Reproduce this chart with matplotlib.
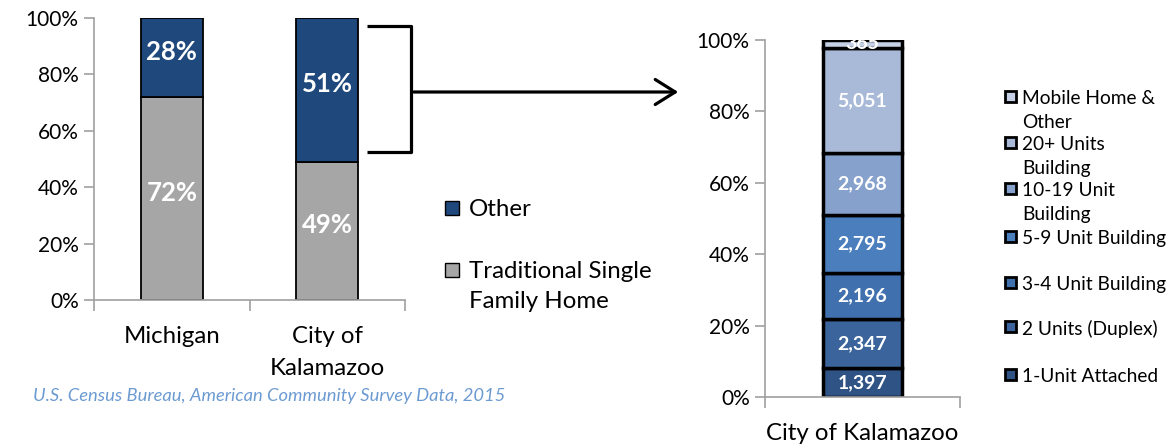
import matplotlib
matplotlib.use("Agg")
import matplotlib.pyplot as plt
from matplotlib.patches import Rectangle
from matplotlib.lines import Line2D
import numpy as np

plt.rcParams['font.family'] = ['Lato', 'DejaVu Sans']

# Left chart: share of housing type
regions = ["Michigan", "City of\nKalamazoo"]
single_family = [72, 49]
other = [28, 51]
left_series = ["Other", "Traditional Single\nFamily Home"]

# Right chart: breakdown of "Other" in Kalamazoo (unit counts)
unit_types = ["1-Unit Attached", "2 Units (Duplex)", "3-4 Unit Building",
              "5-9 Unit Building", "10-19 Unit\nBuilding", "20+ Units\nBuilding",
              "Mobile Home &\nOther"]
unit_counts = [1397, 2347, 2196, 2795, 2968, 5051, 365]
unit_colors = ["#2F5385", "#3A649B", "#4170AE", "#4A7EBD", "#87A1CD", "#A9B9D8", "#C5D0E6"]

source = "U.S. Census Bureau, American Community Survey Data, 2015"

W, H = 1173, 445
fig = plt.figure(figsize=(W / 100, H / 100), dpi=100)


def fx(x):
    return x / W


def fy(y):
    return 1 - y / H


def style_axes(ax):
    for s in ["top", "right"]:
        ax.spines[s].set_visible(False)
    for s in ["left", "bottom"]:
        ax.spines[s].set_color("#A0A0A0")
        ax.spines[s].set_linewidth(1.2)
    ax.tick_params(axis="both", color="#A0A0A0", width=1.2, length=7, labelsize=15, pad=4)
    ax.yaxis.set_major_formatter(matplotlib.ticker.FuncFormatter(lambda v, p: f"{int(round(v * 100))}%"))
    ax.set_yticks(np.arange(0, 1.01, 0.2))
    ax.set_ylim(0, 1)


# ---- left chart
ax1 = fig.add_axes([fx(94), fy(300), fx(405) - fx(94), fy(18) - fy(300)])
xpos = np.arange(len(regions))
sf = np.array(single_family) / 100.0
ot = np.array(other) / 100.0
ax1.bar(xpos, sf, width=0.4, color="#A6A6A6", edgecolor="black", linewidth=1.3)
ax1.bar(xpos, ot, bottom=sf, width=0.4, color="#1F497D", edgecolor="black", linewidth=1.3)
for i in range(len(regions)):
    ax1.text(xpos[i], sf[i] / 2 + 0.02, f"{single_family[i]}%", ha="center", va="center",
             color="white", fontsize=18.5, fontweight="bold")
    ax1.text(xpos[i], sf[i] + ot[i] / 2 + 0.02, f"{other[i]}%", ha="center", va="center",
             color="white", fontsize=18.5, fontweight="bold")
ax1.set_xlim(-0.5, len(regions) - 0.5)
style_axes(ax1)
ax1.set_xticks(xpos, regions)
ax1.set_xticks([-0.5, 0.5, 1.5], minor=True)
ax1.tick_params(axis="x", which="major", length=0, pad=19, labelsize=17.3)
ax1.tick_params(axis="x", which="minor", color="#A0A0A0", width=1.2, length=8)
for lbl in ax1.get_xticklabels():
    lbl.set_linespacing(1.6)

# left legend (drawn by hand so the square sits at the first line)
left_colors = ["#1F497D", "#A6A6A6"]
left_leg_y = [208, 270]
for lab, col, y in zip(left_series, left_colors, left_leg_y):
    fig.patches.append(Rectangle((fx(445), fy(y + 7)), fx(14), fy(0) - fy(14), transform=fig.transFigure,
                                 facecolor=col, edgecolor="black", linewidth=1.0))
    fig.text(fx(469), fy(y - 9), lab, fontsize=17.3, va="top", ha="left", linespacing=1.5)

# ---- right chart
ax2 = fig.add_axes([fx(765), fy(397), fx(960) - fx(765), fy(40) - fy(397)])
total = float(sum(unit_counts))
shares = np.array(unit_counts) / total
bottoms = np.concatenate([[0], np.cumsum(shares)[:-1]])
ax2.bar([0] * len(shares), shares, bottom=bottoms, width=0.41, color=unit_colors,
        edgecolor="black", linewidth=2.5)
for b, s, n in zip(bottoms, shares, unit_counts):
    ax2.text(0, b + s / 2, f"{n:,}", ha="center", va="center", color="white",
             fontsize=14, fontweight="bold")
ax2.set_xlim(-0.5, 0.5)
style_axes(ax2)
ax2.set_xticks([0], ["City of Kalamazoo"])
ax2.set_xticks([-0.5, 0.5], minor=True)
ax2.tick_params(axis="x", which="major", length=0, pad=19, labelsize=17.3)
ax2.tick_params(axis="x", which="minor", color="#A0A0A0", width=1.2, length=8)

# right legend, top entry first
right_leg_y = [97, 143, 189, 237, 283, 327, 375]
for lab, col, y in zip(unit_types[::-1], unit_colors[::-1], right_leg_y):
    fig.patches.append(Rectangle((fx(1005), fy(y + 5)), fx(11), fy(0) - fy(11), transform=fig.transFigure,
                                 facecolor=col, edgecolor="black", linewidth=2.0))
    fig.text(fx(1022), fy(y - 7), lab, fontsize=13.8, va="top", ha="left", linespacing=1.5)

# ---- bracket and arrow linking the two charts
bk = dict(color="black", linewidth=2.3, transform=fig.transFigure, solid_capstyle="butt")
fig.lines.append(Line2D([fx(367), fx(411), fx(411), fx(367)], [fy(26), fy(26), fy(152), fy(152)], **bk))
fig.patches.append(matplotlib.patches.FancyArrowPatch((fx(411), fy(92)), (fx(681), fy(92)),
                                                      transform=fig.transFigure, arrowstyle="->,head_length=8,head_width=5",
                                                      mutation_scale=1.8, color="black", linewidth=2.3))

fig.text(fx(33), fy(396), source, fontsize=13.2, style="italic", color="#6C9BD2", va="center")

fig.savefig("out.png", dpi=100)
